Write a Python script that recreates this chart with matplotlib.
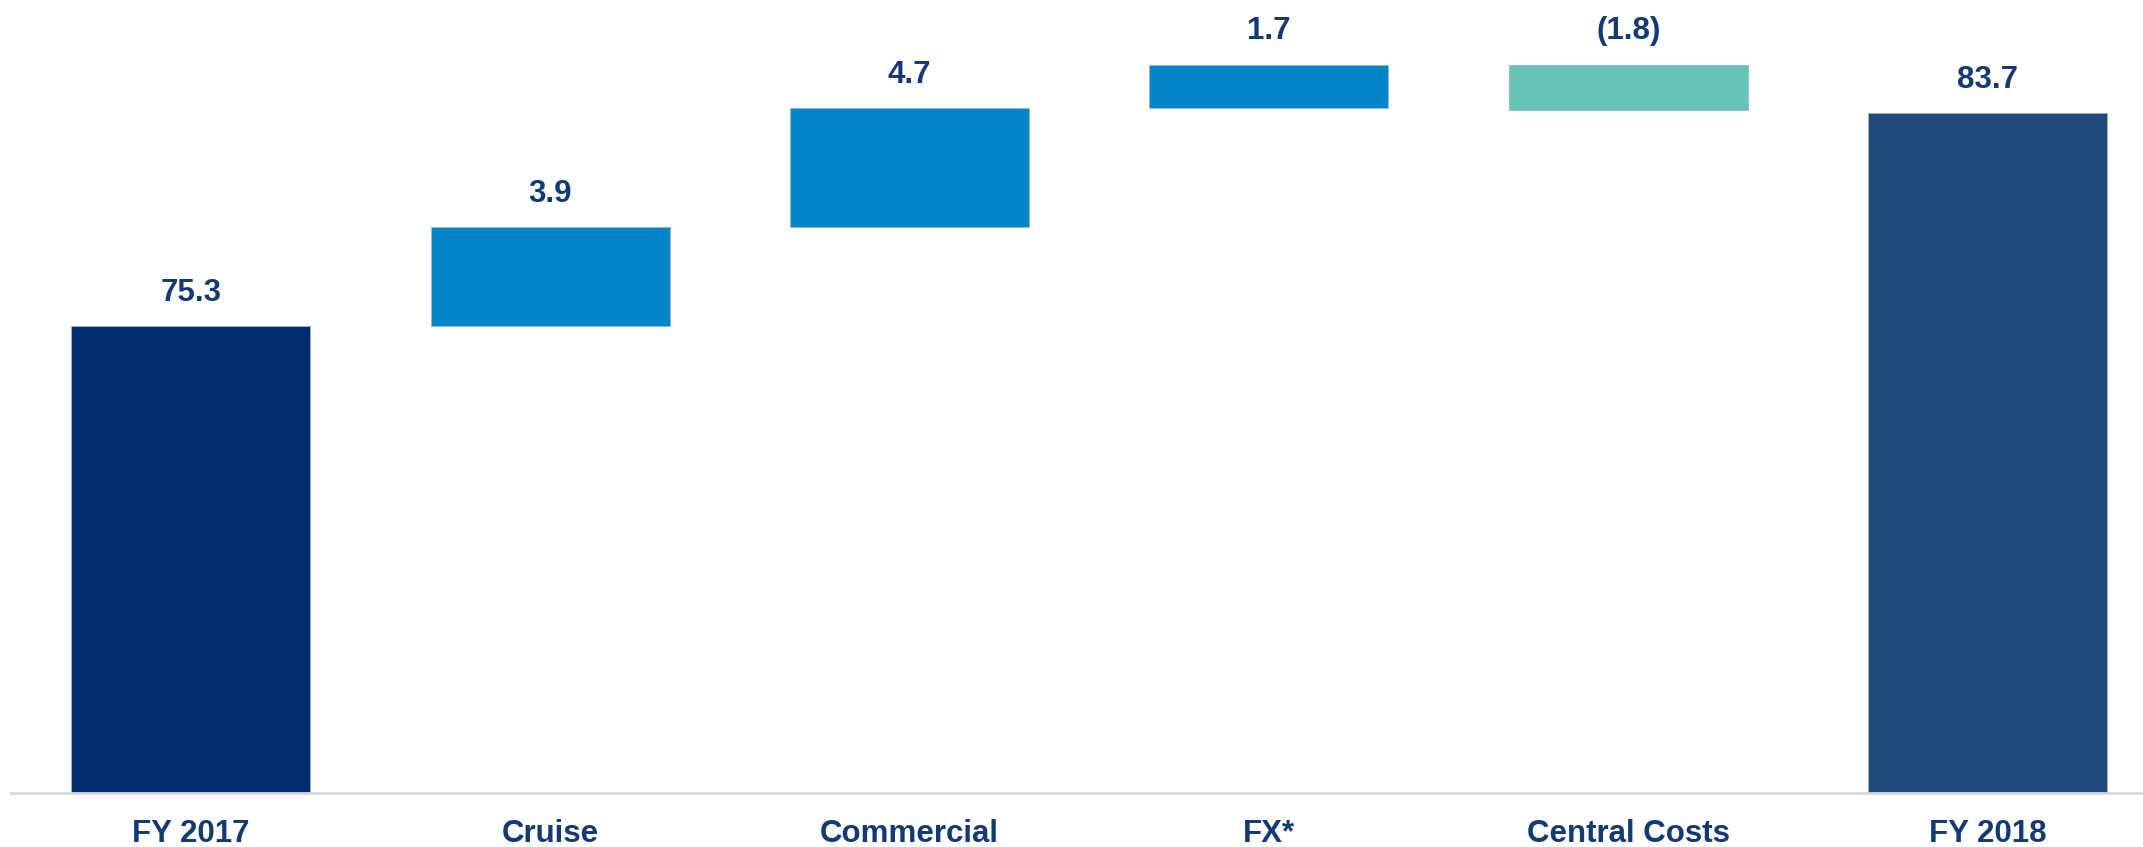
import matplotlib
matplotlib.use("Agg")
import matplotlib.pyplot as plt

categories = ["FY 2017", "Cruise", "Commercial", "FX*", "Central Costs", "FY 2018"]
values = [75.3, 3.9, 4.7, 1.7, -1.8, 83.7]
labels = ["75.3", "3.9", "4.7", "1.7", "(1.8)", "83.7"]
kinds = ["total", "delta", "delta", "delta", "delta", "total"]
colors = ["#002B6D", "#0085CA", "#0085CA", "#0085CA", "#64C6B7", "#204A7B"]

plt.rcParams['font.family'] = ['Liberation Sans', 'DejaVu Sans']
W, H = 2143, 847
fig = plt.figure(figsize=(W / 100, H / 100), dpi=100)
left = 11 / W
bottom = 1 - 793 / H
ax = fig.add_axes([left, bottom, 1 - left, 1 - bottom])

ymin, ymax = 56.9, 88.15
bw = 0.665
running = 0.0
tops = []
for i, (v, k, c) in enumerate(zip(values, kinds, colors)):
    if k == "total":
        base, height = ymin, v - ymin
        running = v
        top = v
    else:
        base = running if v >= 0 else running + v
        height = abs(v)
        top = max(running, running + v)
        running += v
    ax.bar(i, height, bottom=base, width=bw, color=c, edgecolor="#9DB6D4",
           linewidth=0.6, zorder=2)
    tops.append(top)

text_color = "#133A75"
for i, (t, lab) in enumerate(zip(tops, labels)):
    ax.annotate(lab, (i, t), xytext=(0, 24), textcoords="offset points",
                ha="center", va="center", fontsize=22.5, fontweight="bold",
                color=text_color)

ax.set_xlim(-0.5, -0.5 + (W - 11) / 359.4)
ax.set_ylim(ymin, ymax)
ax.set_xticks(range(len(categories)))
ax.set_xticklabels(categories, fontsize=22.5, fontweight="bold", color=text_color)
ax.tick_params(axis="x", length=0, pad=19)
ax.set_yticks([])
for s in ["top", "right", "left"]:
    ax.spines[s].set_visible(False)
ax.spines["bottom"].set_color("#D9D9D9")
ax.spines["bottom"].set_linewidth(2)
ax.patch.set_alpha(0)

fig.savefig("out.png", dpi=100)
